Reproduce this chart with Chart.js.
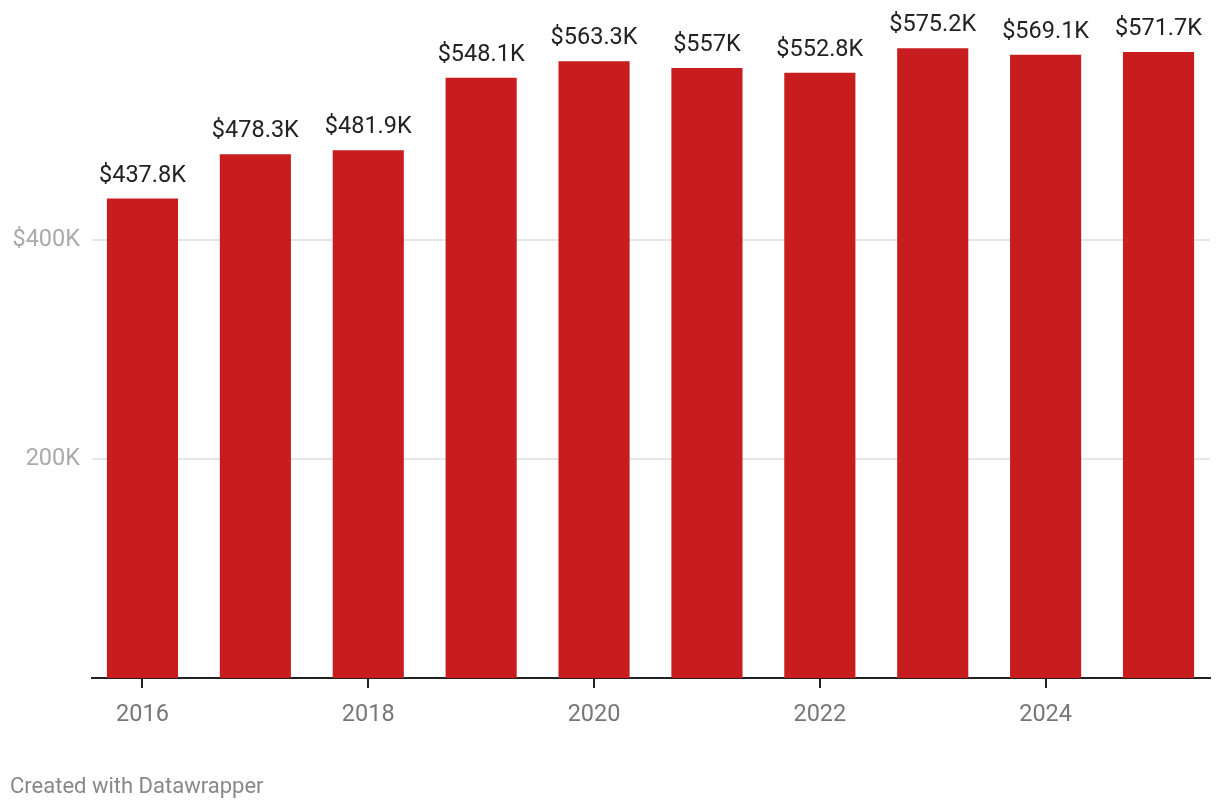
<!DOCTYPE html>
<html>
<head>
<meta charset="utf-8">
<script src="https://cdn.jsdelivr.net/npm/chart.js@4/dist/chart.umd.min.js"></script>
<style>
    html, body { margin: 0; padding: 0; background: #fff; }
    #wrap { position: relative; width: 1220px; height: 810px; }
    #footer {
        position: absolute; left: 10px; top: 773px;
        font-family: Roboto, sans-serif; font-size: 22px; color: #888;
    }
</style>
</head>
<body>
<div id="wrap">
    <canvas id="chart" width="1220" height="810"></canvas>
    <div id="footer">Created with Datawrapper</div>
</div>
<script>
// Данные
const years = [2016, 2017, 2018, 2019, 2020, 2021, 2022, 2023, 2024, 2025];
const values = [437800, 478300, 481900, 548100, 563300, 557000, 552800, 575200, 569100, 571700];
const xTicks = [2016, 2018, 2020, 2022, 2024];
const yTicks = [200000, 400000];
const yTickLabels = ['200K', '$400K'];

const BAR_COLOR = '#c71d1e';
const FONT_SIZE = 23.5;

function formatLabel(v) {
    let s = (v / 1000).toFixed(1);
    if (s.endsWith('.0')) s = s.slice(0, -2);
    return '$' + s + 'K';
}

// Подписи над столбцами
const valueLabels = {
    id: 'valueLabels',
    afterDatasetsDraw(chart) {
        const ctx = chart.ctx;
        const meta = chart.getDatasetMeta(0);
        ctx.save();
        ctx.font = FONT_SIZE + 'px Roboto, sans-serif';
        ctx.fillStyle = '#222';
        ctx.textAlign = 'center';
        ctx.textBaseline = 'alphabetic';
        meta.data.forEach((bar, i) => {
            ctx.fillText(formatLabel(values[i]), bar.x, bar.y - 17);
        });
        ctx.restore();
    }
};

new Chart(document.getElementById('chart'), {
    type: 'bar',
    data: {
        datasets: [{
            data: years.map((y, i) => ({ x: y, y: values[i] })),
            backgroundColor: BAR_COLOR,
            categoryPercentage: 1,
            barPercentage: 0.63
        }]
    },
    options: {
        responsive: false,
        animation: false,
        layout: { padding: { top: 21, right: 10, left: 0, bottom: 0 } },
        plugins: {
            legend: { display: false },
            tooltip: { enabled: false }
        },
        scales: {
            x: {
                type: 'linear',
                offset: false,
                min: 2015.553,
                max: 2025.456,
                afterBuildTicks: s => { s.ticks = xTicks.map(v => ({ value: v })); },
                afterFit: s => { s.height = 132; },
                grid: {
                    offset: false,
                    drawOnChartArea: false,
                    drawTicks: true,
                    tickLength: 10,
                    color: '#222',
                    lineWidth: 2
                },
                border: { display: true, color: '#222', width: 2 },
                ticks: {
                    callback: v => String(v),
                    font: { family: 'Roboto', size: FONT_SIZE },
                    color: '#777',
                    padding: 13,
                    maxRotation: 0
                }
            },
            y: {
                min: 0,
                max: 600000,
                afterBuildTicks: s => { s.ticks = yTicks.map(v => ({ value: v })); },
                afterFit: s => { s.width = 92; s.paddingTop = 0; s.paddingBottom = 0; },
                grid: {
                    drawTicks: false,
                    color: '#e6e6e6',
                    lineWidth: 2
                },
                border: { display: false },
                ticks: {
                    callback: (v, i) => yTickLabels[i],
                    font: { family: 'Roboto', size: FONT_SIZE },
                    color: '#aaa',
                    padding: 12
                }
            }
        }
    },
    plugins: [valueLabels]
});
</script>
</body>
</html>
